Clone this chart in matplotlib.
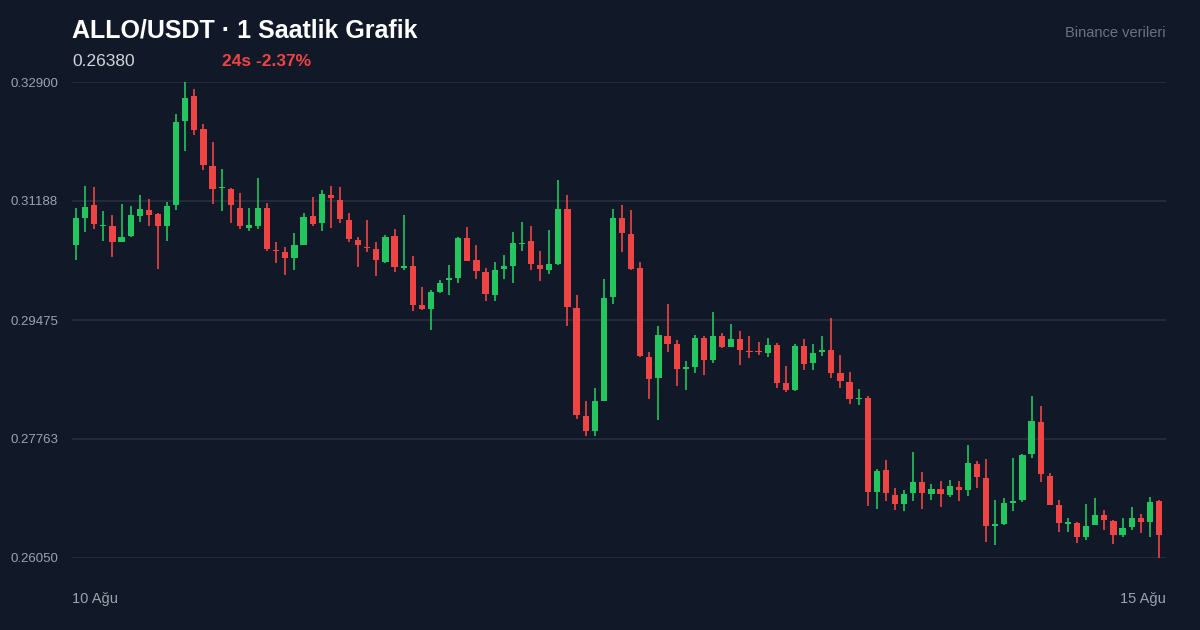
import numpy as np
import matplotlib.pyplot as plt

plt.rcParams['font.family'] = ['Liberation Sans', 'DejaVu Sans']

# hourly candles, ALLO/USDT
opens = [0.30552, 0.30941, 0.31128, 0.30826, 0.30826, 0.30595, 0.30682, 0.30970, 0.31056, 0.30998,
         0.30826, 0.31128, 0.32338, 0.32698, 0.32222, 0.31690, 0.31373, 0.31358, 0.31085, 0.30797,
         0.30826, 0.31085, 0.30480, 0.30451, 0.30365, 0.30552, 0.30970, 0.30869, 0.31272, 0.31200,
         0.30912, 0.30624, 0.30523, 0.30494, 0.30307, 0.30682, 0.30221, 0.30250, 0.29688, 0.29630,
         0.29875, 0.30048, 0.30077, 0.30653, 0.30336, 0.30163, 0.29832, 0.30206, 0.30250, 0.30566,
         0.30610, 0.30264, 0.30192, 0.30278, 0.31070, 0.29645, 0.28090, 0.27874, 0.28306, 0.29803,
         0.30941, 0.30710, 0.30221, 0.28939, 0.28637, 0.29242, 0.29126, 0.28766, 0.28795, 0.29213,
         0.28896, 0.29242, 0.29083, 0.29198, 0.29026, 0.29026, 0.28997, 0.29112, 0.28565, 0.28464,
         0.29098, 0.28853, 0.29011, 0.29040, 0.28709, 0.28579, 0.28334, 0.28349, 0.26995, 0.27312,
         0.26952, 0.26822, 0.26981, 0.27139, 0.26966, 0.27038, 0.26952, 0.27067, 0.27024, 0.27398,
         0.27197, 0.26506, 0.26534, 0.26837, 0.26880, 0.27542, 0.28008, 0.27226, 0.26808, 0.26534,
         0.26549, 0.26347, 0.26520, 0.26664, 0.26578, 0.26376, 0.26491, 0.26621, 0.26563, 0.26866]
closes = [0.30941, 0.31099, 0.30854, 0.30840, 0.30595, 0.30667, 0.30984, 0.31070, 0.30984, 0.30826,
          0.31114, 0.32323, 0.32669, 0.32208, 0.31704, 0.31358, 0.31387, 0.31128, 0.30826, 0.30840,
          0.31085, 0.30494, 0.30466, 0.30365, 0.30552, 0.30955, 0.30854, 0.31286, 0.31229, 0.30926,
          0.30638, 0.30552, 0.30509, 0.30336, 0.30667, 0.30235, 0.30250, 0.29688, 0.29630, 0.29875,
          0.30005, 0.30077, 0.30653, 0.30322, 0.30178, 0.29846, 0.30192, 0.30250, 0.30581, 0.30581,
          0.30278, 0.30206, 0.30278, 0.31070, 0.29659, 0.28104, 0.27874, 0.28306, 0.29789, 0.30941,
          0.30725, 0.30206, 0.28954, 0.28622, 0.29256, 0.29126, 0.28766, 0.28795, 0.29213, 0.28896,
          0.29242, 0.29083, 0.29198, 0.29040, 0.29011, 0.29011, 0.29112, 0.28565, 0.28464, 0.29098,
          0.28838, 0.28997, 0.29040, 0.28709, 0.28594, 0.28334, 0.28349, 0.26995, 0.27298, 0.26981,
          0.26822, 0.26966, 0.27139, 0.26981, 0.27038, 0.26966, 0.27082, 0.27024, 0.27413, 0.27211,
          0.26506, 0.26534, 0.26837, 0.26866, 0.27528, 0.28022, 0.27254, 0.26808, 0.26549, 0.26563,
          0.26347, 0.26506, 0.26664, 0.26592, 0.26376, 0.26477, 0.26621, 0.26563, 0.26851, 0.26380]
highs = [0.31085, 0.31402, 0.31387, 0.31042, 0.30984, 0.31142, 0.31114, 0.31272, 0.31214, 0.31013,
         0.31171, 0.32438, 0.32899, 0.32798, 0.32294, 0.32035, 0.31646, 0.31373, 0.31301, 0.31085,
         0.31517, 0.31157, 0.30595, 0.30523, 0.30725, 0.31013, 0.31243, 0.31344, 0.31402, 0.31387,
         0.31013, 0.30667, 0.30912, 0.30595, 0.30696, 0.30782, 0.30984, 0.30394, 0.29947, 0.29904,
         0.30048, 0.30264, 0.30667, 0.30811, 0.30552, 0.30221, 0.30307, 0.30408, 0.30739, 0.30883,
         0.30826, 0.30466, 0.30768, 0.31488, 0.31272, 0.29832, 0.28306, 0.28493, 0.30062, 0.31070,
         0.31128, 0.31056, 0.30307, 0.29011, 0.29386, 0.29702, 0.29184, 0.28882, 0.29256, 0.29242,
         0.29587, 0.29285, 0.29414, 0.29314, 0.29242, 0.29155, 0.29213, 0.29141, 0.28810, 0.29126,
         0.29198, 0.29126, 0.29242, 0.29501, 0.28968, 0.28723, 0.28478, 0.28378, 0.27326, 0.27456,
         0.27053, 0.27024, 0.27571, 0.27283, 0.27110, 0.27154, 0.27168, 0.27154, 0.27672, 0.27442,
         0.27470, 0.26880, 0.26909, 0.27485, 0.27542, 0.28378, 0.28234, 0.27269, 0.26880, 0.26621,
         0.26563, 0.26822, 0.26909, 0.26736, 0.26592, 0.26621, 0.26779, 0.26678, 0.26923, 0.26880]
lows = [0.30336, 0.30739, 0.30782, 0.30610, 0.30379, 0.30624, 0.30667, 0.30883, 0.30826, 0.30206,
        0.30610, 0.31056, 0.31906, 0.32136, 0.31632, 0.31142, 0.31042, 0.30869, 0.30782, 0.30754,
        0.30782, 0.30466, 0.30293, 0.30120, 0.30192, 0.30552, 0.30826, 0.30754, 0.30797, 0.30869,
        0.30595, 0.30235, 0.30451, 0.30106, 0.30293, 0.30163, 0.30192, 0.29602, 0.29616, 0.29328,
        0.29861, 0.29832, 0.30005, 0.30322, 0.30062, 0.29746, 0.29746, 0.30062, 0.30005, 0.30466,
        0.30192, 0.30034, 0.30134, 0.30264, 0.29386, 0.28046, 0.27802, 0.27802, 0.28306, 0.29702,
        0.30451, 0.30192, 0.28939, 0.28334, 0.28032, 0.29011, 0.28522, 0.28464, 0.28709, 0.28680,
        0.28853, 0.29069, 0.29083, 0.28824, 0.28925, 0.28968, 0.28939, 0.28493, 0.28435, 0.28450,
        0.28752, 0.28752, 0.28954, 0.28637, 0.28493, 0.28262, 0.28248, 0.26794, 0.26750, 0.26866,
        0.26736, 0.26722, 0.26866, 0.26750, 0.26880, 0.26779, 0.26923, 0.26866, 0.26938, 0.27053,
        0.26275, 0.26232, 0.26520, 0.26722, 0.26851, 0.27485, 0.27139, 0.26808, 0.26419, 0.26419,
        0.26261, 0.26304, 0.26520, 0.26448, 0.26246, 0.26347, 0.26448, 0.26405, 0.26347, 0.26045]

y_ticks = [0.32900, 0.31188, 0.29475, 0.27763, 0.26050]
x_labels = ["10 Ağu", "15 Ağu"]

BG = "#111827"
GREEN = "#22c55e"
RED = "#ef4444"

fig = plt.figure(figsize=(12, 6.3), dpi=100, facecolor=BG)
ax = fig.add_axes([72 / 1200, 72 / 630, 1094 / 1200, 476 / 630])
ax.set_facecolor(BG)

x = np.arange(len(opens))
o = np.array(opens); c = np.array(closes)
cols = np.where(c >= o, GREEN, RED)
ax.vlines(x, lows, highs, colors=cols, linewidth=1.2, zorder=2)
ax.bar(x, np.abs(c - o), bottom=np.minimum(o, c), width=0.68, color=cols, zorder=3)

ax.set_xlim(-0.44, 119.77)
ax.set_ylim(y_ticks[-1], y_ticks[0])
ax.set_yticks(y_ticks)
ax.set_yticklabels([f"{v:.5f}" for v in y_ticks])
ax.grid(axis="y", color="#263041", linewidth=1.2, zorder=0)
ax.tick_params(axis="y", length=0, labelcolor="#9ca3af", labelsize=9.5, pad=10)
ax.set_xticks([])
for s in ax.spines.values():
    s.set_visible(False)

fig.text(72 / 1200, 1 - 599 / 630, x_labels[0], color="#9ca3af", fontsize=10.5, va="center", ha="left")
fig.text(1166 / 1200, 1 - 599 / 630, x_labels[1], color="#9ca3af", fontsize=10.5, va="center", ha="right")

fig.text(72 / 1200, 1 - 30 / 630, "ALLO/USDT · 1 Saatlik Grafik", color="white",
         fontsize=18, fontweight="bold", va="center", ha="left")
fig.text(72 / 1200, 1 - 61 / 630, f"{closes[-1]:.5f}", color="#d1d5db", fontsize=12.5, va="center")
fig.text(222 / 1200, 1 - 61 / 630, "24s -2.37%", color=RED, fontsize=12.5, fontweight="bold", va="center")
fig.text(1166 / 1200, 1 - 33 / 630, "Binance verileri", color="#6b7280", fontsize=10.5, va="center", ha="right")

fig.savefig("out.png", dpi=100, facecolor=BG)
